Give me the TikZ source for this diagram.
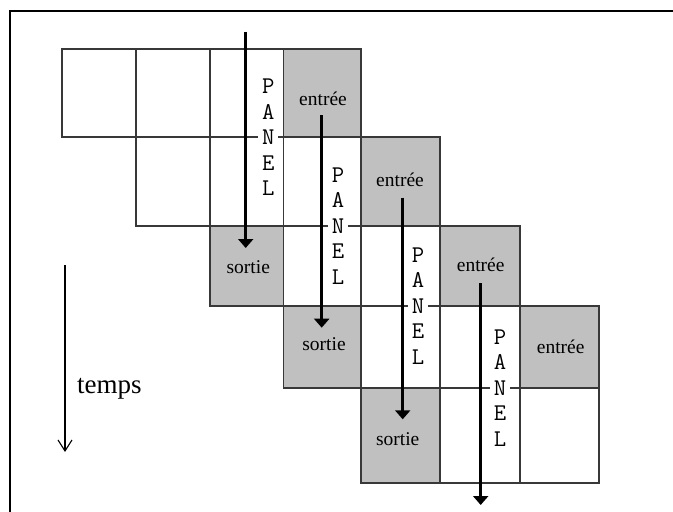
\documentclass[tikz,border=0pt]{standalone}
\usepackage{fontspec}
\setmainfont{Liberation Serif}
\usetikzlibrary{arrows.meta}
\definecolor{cellgrey}{HTML}{C0C0C0}
\definecolor{gridline}{HTML}{383838}
\begin{document}
\begin{tikzpicture}[x=1pt,y=-1pt,
  cell/.style={draw=gridline, line width=1.3pt},
  greycell/.style={cell, fill=cellgrey},
  lbl/.style={font=\fontsize{19.5}{19.5}\selectfont, anchor=base, inner sep=0pt},
  panel/.style={font=\fontsize{24}{25.5}\selectfont\ttfamily\addfontfeature{FakeBold=0.6}, align=center, fill=white, inner xsep=4pt, inner ysep=2pt},
  flow/.style={line width=3.5pt, -{Triangle[length=9pt,width=15pt]}},
  timearrow/.style={line width=1.1pt, -{Straight Barb[length=11pt,width=14pt]}},
]
\useasboundingbox (0,0) rectangle (673,512);
\fill[white] (0,0) rectangle (673,512);
% frame
\draw[line width=2pt] (10,512) -- (10,11) -- (673,11);
% row 1
\draw[cell] (62,49) rectangle (136,137);
\draw[cell] (136,49) rectangle (210,137);
\draw[cell] (210,49) rectangle (283.5,137);
\draw[greycell] (283.5,49) rectangle (361,137);
% row 2
\draw[cell] (136,137) rectangle (210,226);
\draw[cell] (210,137) rectangle (283.5,226);
\draw[cell] (283.5,137) rectangle (361,226);
\draw[greycell] (361,137) rectangle (440,226);
% row 3
\draw[greycell] (210,226) rectangle (283.5,306);
\draw[cell] (283.5,226) rectangle (361,306);
\draw[cell] (361,226) rectangle (440,306);
\draw[greycell] (440,226) rectangle (520,306);
% row 4
\draw[greycell] (283.5,306) rectangle (361,388);
\draw[cell] (361,306) rectangle (440,388);
\draw[cell] (440,306) rectangle (520,388);
\draw[greycell] (520,306) rectangle (599,388);
% row 5
\draw[greycell] (361,388) rectangle (440,483);
\draw[cell] (440,388) rectangle (520,483);
\draw[cell] (520,388) rectangle (599,483);
% labels
\node[lbl] (e1) at (323,105) {entrée};
\node[lbl] (e2) at (400,186) {entrée};
\node[lbl] (e3) at (480.7,271.7) {entrée};
\node[lbl] (e4) at (560.7,353.3) {entrée};
\node[lbl] (s1) at (248.3,273.3) {sortie};
\node[lbl] (s2) at (324,350) {sortie};
\node[lbl] (s3) at (397.7,445) {sortie};
% panels
\node[panel] (p1) at (268.3,137.3) {P\\A\\N\\E\\L};
\node[panel] (p2) at (338,226) {P\\A\\N\\E\\L};
\node[panel] (p3) at (418,306) {P\\A\\N\\E\\L};
\node[panel] (p4) at (500,388) {P\\A\\N\\E\\L};
% flow arrows
\coordinate (a1s) at (245.7,31.7);
\coordinate (a1e) at (245.7,248);
\coordinate (a2s) at (321.7,115);
\coordinate (a2e) at (321.7,327.7);
\coordinate (a3s) at (402.7,197.7);
\coordinate (a3e) at (402.7,419.3);
\coordinate (a4s) at (480.7,283);
\coordinate (a4e) at (480.7,505);
\draw[flow] (a1s) -- (a1e);
\draw[flow] (a2s) -- (a2e);
\draw[flow] (a3s) -- (a3e);
\draw[flow] (a4s) -- (a4e);
% time axis
\coordinate (t1) at (65,265);
\coordinate (t2) at (65,452);
\draw[timearrow] (t1) -- (t2);
\node[font=\fontsize{27}{27}\selectfont, anchor=base west, inner sep=0pt] (temps) at (77,393) {temps};
\end{tikzpicture}
\end{document}
